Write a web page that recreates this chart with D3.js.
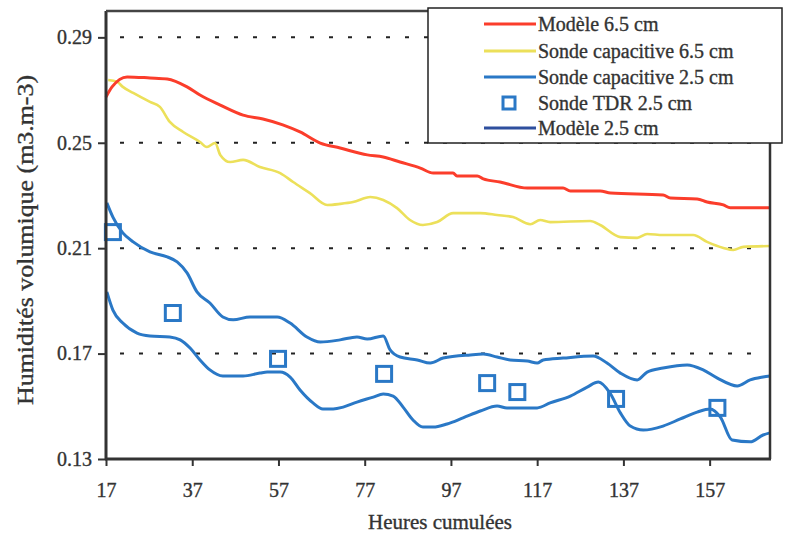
<!DOCTYPE html>
<html><head><meta charset="utf-8">
<script src="https://cdn.jsdelivr.net/npm/d3@7"></script>
<style>html,body{margin:0;padding:0;background:#fff;}svg{display:block;}
svg text{font-family:"Liberation Serif","DejaVu Serif",serif !important;stroke:#333;stroke-width:0.35px;}</style>
</head><body>
<svg id="chart" width="785" height="539"></svg>
<script>
// ---- data ----
const xTicks = [17, 37, 57, 77, 97, 117, 137, 157];
const yTicks = [0.13, 0.17, 0.21, 0.25, 0.29];
const seriesNames = ["Modèle 6.5 cm", "Sonde capacitive 6.5 cm", "Sonde capacitive 2.5 cm", "Sonde TDR 2.5 cm", "Modèle 2.5 cm"];

const modele65Hours = [17,18.4,21.9,27.2,31.2,35.8,38.8,43.5,48.8,53.4,58.0,62.0,66.7,71.3,77.6,81.3,85.2,89.9,92.9,97.5,98.4,103.1,104.5,108.4,114.7,123.0,124.7,131.6,134.0,146.2,147.9,154.1,156.4,160.2,161.8,171];
const modele65Values = [0.2674,0.2712,0.275,0.2746,0.2742,0.2712,0.2681,0.2643,0.2605,0.259,0.2568,0.2541,0.2499,0.248,0.2454,0.2446,0.2427,0.2404,0.2385,0.2385,0.2374,0.2374,0.2363,0.2351,0.2328,0.2328,0.2317,0.2317,0.2309,0.2302,0.229,0.2287,0.2275,0.2264,0.2253,0.2253];

const capa65Hours = [17.5,19.6,20.9,23.3,27.2,29.5,31.8,34.9,38.8,40.4,42.3,43.5,45.8,48.8,52.7,57.4,60.4,64.3,68.3,71.3,74.3,78.3,81.3,84.5,87.5,90.5,93.8,97.5,103.8,107.7,111.4,115.4,117.7,120.0,129.3,131.6,136.3,140.2,142.5,146.2,153.2,156.4,160.2,162.5,164.8,171];
const capa65Values = [0.2738,0.2731,0.2712,0.2689,0.2655,0.2636,0.2579,0.2541,0.2503,0.2484,0.2499,0.2454,0.2427,0.2435,0.2408,0.2385,0.2351,0.2309,0.2264,0.2268,0.2275,0.2294,0.2283,0.2252,0.2207,0.2188,0.2199,0.2233,0.2233,0.2226,0.2218,0.2191,0.2207,0.2199,0.2203,0.2188,0.2142,0.2139,0.2154,0.215,0.215,0.2124,0.2101,0.2093,0.2105,0.2108];

const capa25Hours = [17.2,18.6,20.9,23.3,27.2,31.2,33.5,35.8,38.1,41.1,44.1,46.5,50.4,56.7,59.7,63.6,66.7,71.3,75.2,77.6,81.3,82.9,85.2,89.2,92.2,95.2,101.5,104.5,107.7,110.7,114.7,117.0,118.4,123.0,130.0,133.2,136.3,140.2,142.5,146.2,151.8,155.5,158.8,163.4,166.4,169.4,171];
const capa25Values = [0.2272,0.2218,0.2158,0.2124,0.2086,0.2067,0.2048,0.2006,0.1934,0.1892,0.1839,0.1828,0.1839,0.1839,0.1816,0.1763,0.1744,0.1752,0.1763,0.1755,0.1767,0.1714,0.1687,0.1676,0.1664,0.1683,0.1695,0.1698,0.1687,0.1676,0.1672,0.1664,0.1676,0.1683,0.1691,0.1664,0.1626,0.16,0.163,0.1645,0.1657,0.1638,0.1607,0.1577,0.16,0.1611,0.1615];

const modele25Hours = [17.2,18.6,20.9,24.2,27.2,31.8,34.2,36.5,38.8,41.1,44.1,48.8,52.7,54.4,57.4,59.7,62.0,65.0,67.3,69.7,72.0,75.2,79.0,81.3,83.6,85.9,88.2,90.5,92.9,96.1,99.8,103.8,107.7,110.0,117.0,120.0,124.7,128.6,131.2,133.9,136.3,138.6,141.6,146.2,150.2,154.1,157.1,159.5,162.2,166.4,169.4,171];
const modele25Values = [0.1934,0.1865,0.1816,0.1778,0.1767,0.1763,0.1752,0.1721,0.1676,0.1638,0.1615,0.1615,0.1626,0.163,0.163,0.1611,0.1562,0.1513,0.149,0.149,0.1497,0.1516,0.1535,0.1547,0.1539,0.1497,0.1448,0.1421,0.1421,0.1433,0.1456,0.1482,0.1501,0.1494,0.1494,0.1513,0.1539,0.1573,0.1592,0.155,0.1475,0.1425,0.141,0.1425,0.1452,0.1478,0.149,0.1459,0.1372,0.1365,0.1391,0.1399];

const tdrHours = [18.6,32.5,56.9,81.5,105.4,112.4,135.3,158.8];
const tdrValues = [0.2161,0.1854,0.168,0.1623,0.1588,0.1554,0.1528,0.1494];

// ---- layout ----
const L = 106, R = 770, T = 11, B = 459;
const svg = d3.select("#chart");
const x = d3.scaleLinear().domain([17, 171]).range([L, R]);
const y = d3.scaleLinear().domain([0.13, 0.30]).range([B, T]);
const red = "#fb3d2b", yellow = "#ece05a", blue = "#2a78c6", navy = "#2e4f9e";

// grid (dotted)
svg.append("g").selectAll("line").data(yTicks.filter(v => v > 0.13)).join("line")
  .attr("x1", L + 14).attr("x2", R - 4)
  .attr("y1", d => y(d)).attr("y2", d => y(d))
  .attr("stroke", "#222").attr("stroke-width", 2).attr("stroke-dasharray", "4,15");

const toPts = (hs, vs) => hs.map((h, i) => [h, vs[i]]);
const lineGen = d3.line().x(d => x(d[0])).y(d => y(d[1])).curve(d3.curveMonotoneX);

const g = svg.append("g");
g.append("path").datum(toPts(capa65Hours, capa65Values)).attr("d", lineGen)
  .attr("fill", "none").attr("stroke", yellow).attr("stroke-width", 2.6);
g.append("path").datum(toPts(modele65Hours, modele65Values)).attr("d", lineGen)
  .attr("fill", "none").attr("stroke", red).attr("stroke-width", 3);
g.append("path").datum(toPts(capa25Hours, capa25Values)).attr("d", lineGen)
  .attr("fill", "none").attr("stroke", blue).attr("stroke-width", 3);
g.append("path").datum(toPts(modele25Hours, modele25Values)).attr("d", lineGen)
  .attr("fill", "none").attr("stroke", blue).attr("stroke-width", 3);

g.selectAll("rect.tdr").data(toPts(tdrHours, tdrValues)).join("rect")
  .attr("class", "tdr")
  .attr("x", d => x(d[0]) - 7.5).attr("y", d => y(d[1]) - 7.5)
  .attr("width", 15).attr("height", 15)
  .attr("fill", "none").attr("stroke", blue).attr("stroke-width", 3);

// axes
const yAxis = d3.axisLeft(y).tickValues(yTicks).tickFormat(d3.format(".2f")).tickSize(8).tickPadding(6);
const yG = svg.append("g").attr("transform", `translate(${L},0)`).call(yAxis);
const xAxis = d3.axisBottom(x).tickValues(xTicks).tickFormat(d3.format("d")).tickSize(7).tickPadding(17);
const xG = svg.append("g").attr("transform", `translate(0,${B})`).call(xAxis);
[yG, xG].forEach(a => {
  a.attr("font-family", null).attr("font-size", null);
  a.select(".domain").remove();
  a.selectAll(".tick line").attr("stroke", "#333").attr("stroke-width", 2);
  a.selectAll(".tick text").attr("fill", "#333").style("font-size", "20px");
});

// frame
svg.append("line").attr("x1", L).attr("x2", L).attr("y1", T).attr("y2", B + 1)
  .attr("stroke", "#333").attr("stroke-width", 3);
svg.append("line").attr("x1", L - 1).attr("x2", R + 1).attr("y1", B).attr("y2", B)
  .attr("stroke", "#333").attr("stroke-width", 3);
svg.append("line").attr("x1", L).attr("x2", 430).attr("y1", T).attr("y2", T)
  .attr("stroke", "#444").attr("stroke-width", 2.5);
svg.append("line").attr("x1", R).attr("x2", R).attr("y1", 140).attr("y2", B)
  .attr("stroke", "#333").attr("stroke-width", 2.5);

// axis titles
svg.append("text").attr("x", (L + R) / 2 + 2).attr("y", 529).attr("text-anchor", "middle")
  .attr("fill", "#333").style("font-size", "21px").text("Heures cumulées");
svg.append("text").attr("transform", "translate(33,240) rotate(-90)").attr("text-anchor", "middle")
  .attr("fill", "#333").style("font-size", "23px")
  .attr("textLength", 330).attr("lengthAdjust", "spacingAndGlyphs")
  .text("Humidités volumique (m3.m-3)");

// legend
const lg = svg.append("g");
lg.append("rect").attr("x", 428).attr("y", 8).attr("width", 354).attr("height", 135)
  .attr("fill", "#fff").attr("stroke", "#222").attr("stroke-width", 1.5);
const legendRows = [
  {name: seriesNames[0], color: red, type: "line"},
  {name: seriesNames[1], color: yellow, type: "line"},
  {name: seriesNames[2], color: blue, type: "line"},
  {name: seriesNames[3], color: blue, type: "square"},
  {name: seriesNames[4], color: navy, type: "line"}
];
const rowY = [24, 51, 77, 103, 128];
legendRows.forEach((r, i) => {
  const cy = rowY[i];
  if (r.type === "line") {
    lg.append("line").attr("x1", 484).attr("x2", 536).attr("y1", cy).attr("y2", cy)
      .attr("stroke", r.color).attr("stroke-width", 3);
  } else {
    lg.append("rect").attr("x", 503).attr("y", cy - 6).attr("width", 12).attr("height", 12)
      .attr("fill", "none").attr("stroke", r.color).attr("stroke-width", 3);
  }
  lg.append("text").attr("x", 538).attr("y", cy + 7).attr("fill", "#333")
    .style("font-size", "20px").text(r.name);
});
</script>
</body></html>
